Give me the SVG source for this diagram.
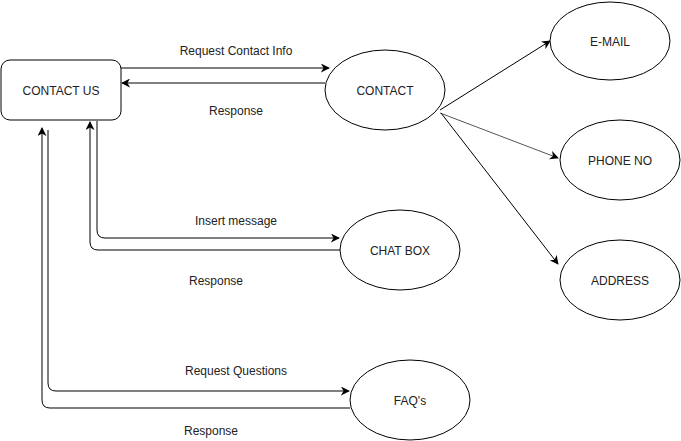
<svg xmlns="http://www.w3.org/2000/svg" width="681" height="441" viewBox="0 0 681 441">
<style>
.shape{fill:#fff;stroke:#000;stroke-width:1}
.lbl{font-family:"Liberation Sans",Arial,sans-serif;font-size:12px;fill:#222;text-anchor:middle;dominant-baseline:central}
.edge{fill:none;stroke:#000;stroke-width:1}
.thin{stroke:#555}
</style>
<defs>
<marker id="arr" viewBox="0 0 10 10" refX="9" refY="5" markerWidth="9" markerHeight="9" markerUnits="userSpaceOnUse" orient="auto">
<path d="M0,0 L10,5 L0,10 L3,5 z" fill="#000"/>
</marker>
</defs>
<rect width="681" height="441" fill="#fff"/>
<g id="connectors">
<path class="edge" d="M121,68 H329" marker-end="url(#arr)"/>
<path class="edge" d="M325,83 H122" marker-end="url(#arr)"/>
<path class="edge" d="M97,121 V230 Q97,238 105,238 H339" marker-end="url(#arr)"/>
<path class="edge" d="M341,250 H98 Q90,250 90,242 V122" marker-end="url(#arr)"/>
<path class="edge" d="M48,130 V383 Q48,391 56,391 H349" marker-end="url(#arr)"/>
<path class="edge" d="M350,408 H50 Q42,408 42,400 V128" marker-end="url(#arr)"/>
<path class="edge" d="M440,110 L550,41" marker-end="url(#arr)"/>
<path class="edge thin" d="M440,113 L558,158" marker-end="url(#arr)"/>
<path class="edge" d="M441,113 L558,264" marker-end="url(#arr)"/>
<text class="lbl" x="236" y="51">Request Contact Info</text>
<text class="lbl" x="236" y="111">Response</text>
<text class="lbl" x="236" y="221">Insert message</text>
<text class="lbl" x="216" y="281">Response</text>
<text class="lbl" x="236" y="371">Request Questions</text>
<text class="lbl" x="211" y="431">Response</text>
</g>
<g id="contact-us">
<rect class="shape" x="1" y="60" width="120" height="60" rx="9" ry="9"/>
<text class="lbl" x="61" y="91">CONTACT US</text>
</g>
<g id="contact">
<ellipse class="shape" cx="385" cy="90" rx="60" ry="40"/>
<text class="lbl" x="385" y="91">CONTACT</text>
</g>
<g id="email">
<ellipse class="shape" cx="610" cy="41" rx="60" ry="39"/>
<text class="lbl" x="610" y="42">E-MAIL</text>
</g>
<g id="phone">
<ellipse class="shape" cx="620" cy="160" rx="60" ry="40"/>
<text class="lbl" x="620" y="161">PHONE NO</text>
</g>
<g id="address">
<ellipse class="shape" cx="620" cy="280" rx="60" ry="40"/>
<text class="lbl" x="620" y="281">ADDRESS</text>
</g>
<g id="chatbox">
<ellipse class="shape" cx="400" cy="250" rx="60" ry="40"/>
<text class="lbl" x="400" y="251">CHAT BOX</text>
</g>
<g id="faqs">
<ellipse class="shape" cx="410" cy="400" rx="60" ry="40"/>
<text class="lbl" x="410" y="401">FAQ's</text>
</g>
</svg>
